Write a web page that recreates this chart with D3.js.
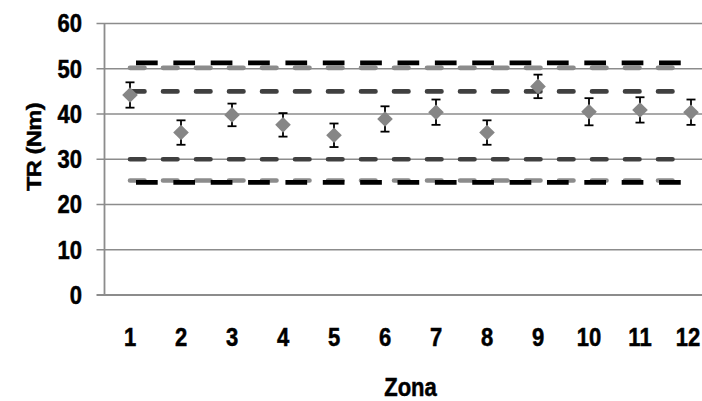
<!DOCTYPE html>
<html>
<head>
<meta charset="utf-8">
<script src="https://cdn.jsdelivr.net/npm/d3@7"></script>
<style>
  html, body { margin: 0; padding: 0; background: #fff; }
  svg { display: block; }
  text { font-family: "Liberation Sans", Arial, sans-serif; font-weight: bold; fill: #000; stroke: #000; stroke-width: 0.45px; }
</style>
</head>
<body>
<svg id="chart" width="702" height="401"></svg>
<script>
// ---- data ----
const zones = ["1", "2", "3", "4", "5", "6", "7", "8", "9", "10", "11", "12"];
const meanTR = [44.2, 35.9, 39.8, 37.6, 35.3, 38.9, 40.4, 35.9, 46.1, 40.5, 40.9, 40.4];
const errTR = [2.8, 2.7, 2.5, 2.6, 2.6, 2.8, 2.8, 2.7, 2.6, 3.0, 2.8, 2.8];
const limitBlack = [51.3, 24.9];
const limitGray = [50.2, 25.3];
const limitDark = [45, 30];
const yTicks = [0, 10, 20, 30, 40, 50, 60];
const xTitle = "Zona";
const yTitle = "TR (Nm)";

// ---- layout ----
const svg = d3.select("#chart");
const plotLeft = 104.5, plotRight = 716.5, plotTop = 23.5, plotBottom = 295;
const x = d3.scaleBand().domain(zones).range([plotLeft, plotRight]);
const cx = z => x(z) + x.bandwidth() / 2;
const y = d3.scaleLinear().domain([0, 60]).range([plotBottom, plotTop]);
const sy = 1.13;

// gridlines + tick marks
svg.append("g").selectAll("line").data(yTicks.filter(t => t > 0)).join("line")
  .attr("x1", plotLeft - 8).attr("x2", 702)
  .attr("y1", d => y(d)).attr("y2", d => y(d))
  .attr("stroke", "#8c8c8c").attr("stroke-width", 1.6);

// x axis line
svg.append("line").attr("x1", plotLeft - 8).attr("x2", 702)
  .attr("y1", y(0)).attr("y2", y(0))
  .attr("stroke", "#8c8c8c").attr("stroke-width", 1.8);
// y axis line
svg.append("line").attr("x1", plotLeft).attr("x2", plotLeft)
  .attr("y1", y(60)).attr("y2", y(0))
  .attr("stroke", "#8c8c8c").attr("stroke-width", 1.8);

// y tick labels
svg.append("g").selectAll("text").data(yTicks).join("text")
  .attr("transform", d => `translate(82,${y(d)}) scale(1,${sy})`)
  .attr("text-anchor", "end").attr("dy", "0.36em")
  .style("font-size", "22px")
  .text(d => d);

// x tick labels (last one kept inside the frame)
svg.append("g").selectAll("text").data(zones).join("text")
  .attr("transform", d => `translate(${Math.min(cx(d), 688)},337) scale(1,${sy})`)
  .attr("text-anchor", "middle").attr("dy", "0.36em")
  .style("font-size", "22px")
  .text(d => d);

// axis titles
svg.append("text")
  .attr("transform", `translate(${(plotLeft + plotRight) / 2},396) scale(1,${sy})`)
  .attr("text-anchor", "middle")
  .style("font-size", "22px")
  .text(xTitle);
svg.append("text")
  .attr("transform", `translate(40.5,147) scale(1,${sy}) rotate(-90)`)
  .attr("text-anchor", "middle")
  .style("font-size", "21px")
  .style("letter-spacing", "-0.5px")
  .text(yTitle);

// reference dashed lines
const x0 = cx(zones[0]), x1 = cx(zones[zones.length - 1]);
function refLine(v, color, dash, offset, cap) {
  svg.append("line")
    .attr("x1", x0).attr("x2", x1)
    .attr("y1", y(v)).attr("y2", y(v))
    .attr("stroke", color).attr("stroke-width", 4.6)
    .attr("stroke-dasharray", dash).attr("stroke-dashoffset", offset)
    .attr("stroke-linecap", cap);
}
limitDark.forEach(v => refLine(v, "#404040", "14.5,18.5", 0, "round"));
limitGray.forEach(v => refLine(v, "#8c8c8c", "14.5,18.5", 0, "round"));
limitBlack.forEach(v => refLine(v, "#000", "21.7,15.66", 31.36, "butt"));

// error bars
const eb = svg.append("g").attr("stroke", "#000").attr("stroke-width", 1.8);
zones.forEach((z, i) => {
  const X = cx(z), hi = y(meanTR[i] + errTR[i]), lo = y(meanTR[i] - errTR[i]);
  eb.append("line").attr("x1", X).attr("x2", X).attr("y1", hi).attr("y2", lo);
  eb.append("line").attr("x1", X - 4.5).attr("x2", X + 4.5).attr("y1", hi).attr("y2", hi);
  eb.append("line").attr("x1", X - 4.5).attr("x2", X + 4.5).attr("y1", lo).attr("y2", lo);
});

// diamonds
const r = 7.8;
svg.append("g").selectAll("path").data(zones).join("path")
  .attr("d", (z, i) => {
    const X = cx(z), Y = y(meanTR[i]);
    return `M${X},${Y - r}L${X + r},${Y}L${X},${Y + r}L${X - r},${Y}Z`;
  })
  .attr("fill", "#868686");
</script>
</body>
</html>
